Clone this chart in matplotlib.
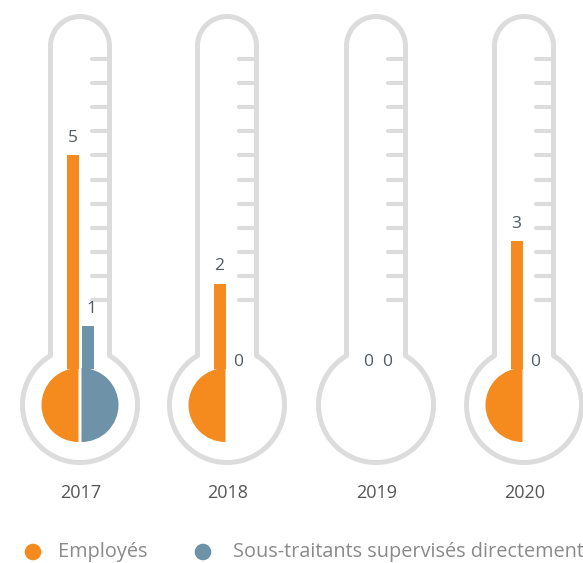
import matplotlib.pyplot as plt
import numpy as np
from matplotlib.patches import Wedge

plt.rcParams['font.family'] = ['Open Sans', 'DejaVu Sans']

# data
years = ["2017", "2018", "2019", "2020"]
employes = [5, 2, 0, 3]
sous_traitants = [1, 0, 0, 0]
legend_labels = ["Employés", "Sous-traitants supervisés directement"]

ORANGE = "#F58A1F"
BLUE = "#6E93A8"
GREY = "#DCDCDC"
TXT = "#4F5A63"

# layout (pixel coords, y down)
centers = [80, 227, 376, 524]
base_y = 369       # value 0
unit = 42.75       # px per unit
bulb_y = 405
tube_r = 29.5
bulb_r = 57.5
top_y = 46
bar_w = 12
gap = 1.5

fig = plt.figure(figsize=(5.83, 5.63), dpi=100)
ax = fig.add_axes([0, 0, 1, 1])
ax.set_xlim(0, 583)
ax.set_ylim(563, 0)
ax.axis("off")


def outline(cx):
    t = np.linspace(np.pi, 0, 60)
    top = np.column_stack([cx + tube_r * np.cos(t), top_y - tube_r * np.sin(t)])
    dy = np.sqrt(bulb_r ** 2 - tube_r ** 2)
    a = np.arctan2(dy, tube_r)
    th = np.linspace(-a, np.pi + a, 200)
    bulb = np.column_stack([cx + bulb_r * np.cos(th), bulb_y + bulb_r * np.sin(th)])
    return np.vstack([top, [[cx + tube_r, bulb_y - dy]], bulb,
                      [[cx - tube_r, bulb_y - dy]], top[:1]])


def label_y(v):
    if v == 0:
        return base_y - 7
    return base_y - v * unit - 17


for i, cx in enumerate(centers):
    pts = outline(cx)
    ax.plot(pts[:, 0], pts[:, 1], color=GREY, lw=3.6, solid_joinstyle="round", zorder=1)
    # scale ticks
    for k in range(11):
        ty = 59 + k * 24.1
        ax.plot([cx + 12, cx + tube_r], [ty, ty], color=GREY, lw=3,
                solid_capstyle="round", zorder=1)

    e, s = employes[i], sous_traitants[i]
    if e > 0:
        ax.add_patch(Wedge((cx - gap, bulb_y), 37, 90, 270, color=ORANGE, lw=0, zorder=3))
        ax.bar(cx - gap - bar_w / 2, -e * unit, bottom=base_y, width=bar_w,
               color=ORANGE, zorder=3)
    if s > 0:
        ax.add_patch(Wedge((cx + gap, bulb_y), 37, -90, 90, color=BLUE, lw=0, zorder=3))
        ax.bar(cx + gap + bar_w / 2, -s * unit, bottom=base_y, width=bar_w,
               color=BLUE, zorder=3)
    ax.text(cx - gap - bar_w / 2, label_y(e), str(e),
            ha="center", va="center", fontsize=12.5, color=TXT)
    ax.text(cx + gap + bar_w / 2 + 4, label_y(s), str(s),
            ha="center", va="center", fontsize=12.5, color=TXT)
    ax.text(cx + 1, 493, years[i], ha="center", va="center", fontsize=13, color="#555555")

# legend
ax.scatter([33, 203], [552, 552], s=120, color=[ORANGE, BLUE], zorder=3)
ax.text(58, 552, legend_labels[0], ha="left", va="center", fontsize=14.3, color="#8A8A8A")
ax.text(233, 552, legend_labels[1], ha="left", va="center", fontsize=14.3, color="#8A8A8A")

fig.savefig("out.png", dpi=100)
